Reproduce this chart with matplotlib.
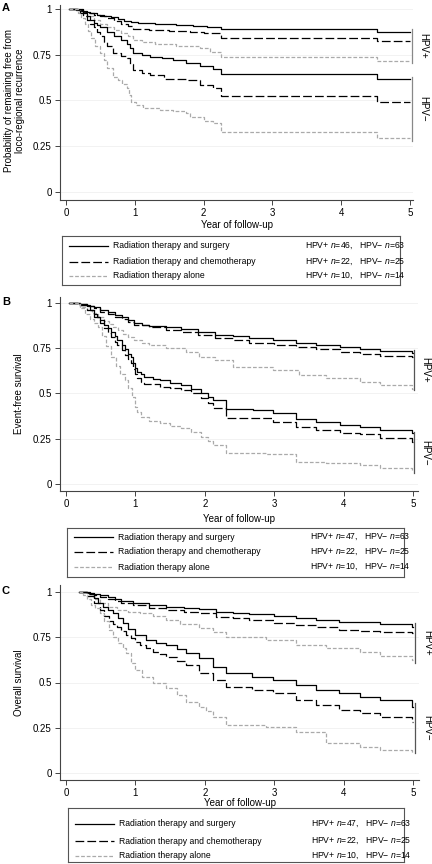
import matplotlib
matplotlib.use('Agg')
import matplotlib.pyplot as plt

plt.rcParams['font.family'] = ['Liberation Sans', 'DejaVu Sans']
plt.rcParams['mathtext.fontset'] = 'custom'
plt.rcParams['mathtext.rm'] = 'Liberation Sans'
plt.rcParams['mathtext.it'] = 'Liberation Sans:italic'

# ---- Panel A: loco-regional recurrence ----
a_surg_pos_t = [0.05, 0.15, 0.25, 0.35, 0.45, 0.55, 0.65, 0.75, 0.85, 0.95, 1.05, 1.3, 1.6, 1.85, 2.05, 2.26, 4.52, 5.0]
a_surg_pos_s = [1.0, 0.995, 0.985, 0.978, 0.97, 0.962, 0.955, 0.945, 0.935, 0.928, 0.922, 0.918, 0.913, 0.908, 0.903, 0.889, 0.876, 0.876]
a_chemo_pos_t = [0.05, 0.2, 0.3, 0.4, 0.5, 0.6, 0.7, 0.8, 0.9, 0.98, 1.2, 1.5, 1.8, 2.0, 2.26, 4.52, 5.0]
a_chemo_pos_s = [1.0, 0.99, 0.98, 0.97, 0.96, 0.95, 0.935, 0.92, 0.905, 0.89, 0.885, 0.88, 0.872, 0.867, 0.84, 0.827, 0.827]
a_alone_pos_t = [0.05, 0.2, 0.3, 0.4, 0.5, 0.6, 0.7, 0.8, 0.9, 0.98, 1.1, 1.3, 1.6, 1.95, 2.1, 2.26, 4.52, 5.0]
a_alone_pos_s = [1.0, 0.98, 0.96, 0.94, 0.92, 0.9, 0.885, 0.87, 0.85, 0.83, 0.82, 0.81, 0.8, 0.785, 0.767, 0.736, 0.716, 0.716]
a_surg_neg_t = [0.05, 0.25, 0.3, 0.35, 0.4, 0.45, 0.5, 0.6, 0.7, 0.8, 0.88, 0.93, 0.98, 1.1, 1.22, 1.4, 1.56, 1.75, 1.95, 2.14, 2.26, 4.52, 5.0]
a_surg_neg_s = [1.0, 0.98, 0.96, 0.94, 0.925, 0.91, 0.9, 0.875, 0.85, 0.83, 0.81, 0.785, 0.76, 0.75, 0.74, 0.73, 0.72, 0.705, 0.69, 0.67, 0.645, 0.617, 0.617]
a_chemo_neg_t = [0.05, 0.2, 0.25, 0.3, 0.35, 0.4, 0.45, 0.5, 0.55, 0.6, 0.69, 0.8, 0.88, 0.93, 0.98, 1.1, 1.22, 1.42, 1.75, 1.95, 2.14, 2.26, 4.52, 5.0]
a_chemo_neg_s = [1.0, 0.98, 0.96, 0.94, 0.92, 0.9, 0.875, 0.85, 0.82, 0.8, 0.76, 0.745, 0.73, 0.7, 0.667, 0.65, 0.64, 0.62, 0.61, 0.585, 0.57, 0.525, 0.493, 0.493]
a_alone_neg_t = [0.05, 0.17, 0.22, 0.27, 0.32, 0.37, 0.42, 0.49, 0.55, 0.6, 0.68, 0.75, 0.82, 0.88, 0.92, 0.95, 1.02, 1.12, 1.36, 1.55, 1.75, 1.8, 2.0, 2.14, 2.26, 4.52, 5.0]
a_alone_neg_s = [1.0, 0.98, 0.95, 0.92, 0.88, 0.84, 0.8, 0.76, 0.72, 0.68, 0.63, 0.61, 0.59, 0.57, 0.53, 0.49, 0.475, 0.46, 0.45, 0.44, 0.43, 0.41, 0.39, 0.377, 0.327, 0.297, 0.297]

# ---- Panel B: event-free survival ----
b_surg_pos_t = [0.04, 0.2, 0.3, 0.4, 0.49, 0.6, 0.7, 0.8, 0.9, 0.98, 1.1, 1.2, 1.44, 1.65, 1.9, 2.14, 2.4, 2.64, 2.98, 3.32, 3.6, 3.94, 4.23, 4.52, 4.98, 5.0]
b_surg_pos_s = [1.0, 0.995, 0.985, 0.975, 0.961, 0.95, 0.935, 0.92, 0.905, 0.888, 0.88, 0.875, 0.866, 0.855, 0.842, 0.823, 0.815, 0.805, 0.795, 0.781, 0.768, 0.755, 0.744, 0.736, 0.722, 0.722]
b_chemo_pos_t = [0.04, 0.2, 0.3, 0.4, 0.49, 0.6, 0.7, 0.8, 0.9, 0.98, 1.2, 1.44, 1.65, 1.9, 2.14, 2.4, 2.64, 3.0, 3.32, 3.6, 3.94, 4.23, 4.52, 4.98, 5.0]
b_chemo_pos_s = [1.0, 0.995, 0.985, 0.97, 0.952, 0.94, 0.925, 0.91, 0.895, 0.878, 0.865, 0.851, 0.838, 0.823, 0.805, 0.795, 0.781, 0.77, 0.755, 0.745, 0.731, 0.718, 0.709, 0.703, 0.703]
b_alone_pos_t = [0.04, 0.2, 0.3, 0.38, 0.46, 0.55, 0.62, 0.68, 0.75, 0.82, 0.9, 0.98, 1.1, 1.2, 1.44, 1.73, 1.92, 2.14, 2.4, 2.98, 3.36, 3.75, 4.23, 4.52, 4.98, 5.0]
b_alone_pos_s = [1.0, 0.98, 0.96, 0.945, 0.924, 0.9, 0.885, 0.869, 0.85, 0.83, 0.81, 0.795, 0.78, 0.768, 0.75, 0.731, 0.703, 0.685, 0.644, 0.63, 0.602, 0.584, 0.565, 0.547, 0.523, 0.523]
b_surg_neg_t = [0.04, 0.2, 0.34, 0.4, 0.45, 0.49, 0.55, 0.6, 0.65, 0.7, 0.74, 0.8, 0.85, 0.9, 0.93, 0.97, 1.0, 1.03, 1.08, 1.12, 1.25, 1.36, 1.5, 1.65, 1.8, 1.95, 2.05, 2.12, 2.3, 2.7, 2.98, 3.32, 3.6, 3.94, 4.23, 4.52, 4.98, 5.0]
b_surg_neg_s = [1.0, 0.99, 0.96, 0.94, 0.925, 0.906, 0.88, 0.86, 0.84, 0.815, 0.796, 0.77, 0.745, 0.72, 0.704, 0.67, 0.64, 0.621, 0.605, 0.59, 0.58, 0.575, 0.56, 0.547, 0.525, 0.501, 0.48, 0.464, 0.413, 0.409, 0.39, 0.357, 0.34, 0.326, 0.313, 0.298, 0.28, 0.28]
b_chemo_neg_t = [0.04, 0.2, 0.3, 0.4, 0.49, 0.55, 0.6, 0.65, 0.7, 0.74, 0.8, 0.85, 0.9, 0.93, 0.97, 1.0, 1.03, 1.08, 1.12, 1.36, 1.5, 1.65, 1.8, 1.95, 2.05, 2.12, 2.3, 2.98, 3.32, 3.6, 3.94, 4.23, 4.52, 4.98, 5.0]
b_chemo_neg_s = [1.0, 0.99, 0.96, 0.92, 0.888, 0.86, 0.835, 0.81, 0.785, 0.768, 0.74, 0.715, 0.69, 0.667, 0.635, 0.61, 0.584, 0.565, 0.551, 0.538, 0.53, 0.52, 0.5, 0.474, 0.445, 0.42, 0.367, 0.344, 0.317, 0.3, 0.28, 0.276, 0.252, 0.234, 0.234]
b_alone_neg_t = [0.04, 0.2, 0.28, 0.35, 0.4, 0.46, 0.52, 0.58, 0.65, 0.72, 0.78, 0.85, 0.9, 0.95, 0.99, 1.03, 1.08, 1.2, 1.36, 1.5, 1.65, 1.8, 1.95, 2.05, 2.12, 2.3, 2.88, 3.32, 3.75, 4.23, 4.52, 4.98, 5.0]
b_alone_neg_s = [1.0, 0.97, 0.94, 0.91, 0.89, 0.869, 0.82, 0.76, 0.703, 0.65, 0.61, 0.575, 0.53, 0.48, 0.427, 0.395, 0.372, 0.35, 0.335, 0.32, 0.307, 0.285, 0.261, 0.235, 0.215, 0.169, 0.166, 0.123, 0.114, 0.105, 0.087, 0.075, 0.075]

# ---- Panel C: overall survival ----
c_surg_pos_t = [0.19, 0.3, 0.4, 0.49, 0.6, 0.7, 0.8, 0.96, 1.2, 1.44, 1.7, 1.92, 2.16, 2.4, 2.64, 3.0, 3.32, 3.6, 3.94, 4.23, 4.52, 4.98, 5.0]
c_surg_pos_s = [1.0, 0.995, 0.99, 0.983, 0.97, 0.96, 0.95, 0.937, 0.928, 0.919, 0.91, 0.904, 0.891, 0.884, 0.876, 0.865, 0.854, 0.845, 0.836, 0.832, 0.823, 0.805, 0.805]
c_chemo_pos_t = [0.19, 0.3, 0.4, 0.49, 0.6, 0.7, 0.8, 0.96, 1.2, 1.44, 1.7, 1.92, 2.16, 2.4, 2.64, 3.0, 3.32, 3.6, 3.94, 4.23, 4.52, 4.98, 5.0]
c_chemo_pos_s = [1.0, 0.99, 0.983, 0.974, 0.96, 0.95, 0.94, 0.928, 0.913, 0.9, 0.89, 0.882, 0.863, 0.855, 0.845, 0.83, 0.818, 0.805, 0.79, 0.785, 0.781, 0.771, 0.771]
c_alone_pos_t = [0.19, 0.3, 0.4, 0.49, 0.6, 0.74, 0.9, 1.07, 1.25, 1.44, 1.65, 1.92, 2.12, 2.3, 2.88, 3.32, 3.75, 4.23, 4.52, 4.98, 5.0]
c_alone_pos_s = [1.0, 0.98, 0.96, 0.937, 0.92, 0.9, 0.89, 0.882, 0.865, 0.845, 0.826, 0.8, 0.78, 0.753, 0.735, 0.707, 0.689, 0.67, 0.646, 0.624, 0.624]
c_surg_neg_t = [0.19, 0.34, 0.4, 0.46, 0.53, 0.6, 0.68, 0.75, 0.82, 0.9, 1.0, 1.15, 1.3, 1.44, 1.6, 1.73, 1.92, 2.12, 2.3, 2.68, 2.98, 3.32, 3.6, 3.94, 4.23, 4.52, 4.98, 5.0]
c_surg_neg_s = [1.0, 0.99, 0.965, 0.94, 0.919, 0.9, 0.882, 0.855, 0.827, 0.795, 0.763, 0.735, 0.72, 0.707, 0.685, 0.661, 0.633, 0.587, 0.55, 0.532, 0.514, 0.486, 0.46, 0.44, 0.42, 0.403, 0.366, 0.366]
c_chemo_neg_t = [0.19, 0.3, 0.4, 0.49, 0.55, 0.62, 0.68, 0.74, 0.8, 0.86, 0.93, 1.0, 1.07, 1.16, 1.26, 1.35, 1.44, 1.6, 1.73, 1.92, 2.12, 2.3, 2.68, 2.98, 3.32, 3.6, 3.94, 4.23, 4.52, 4.98, 5.0]
c_chemo_neg_s = [1.0, 0.98, 0.94, 0.9, 0.87, 0.84, 0.825, 0.808, 0.785, 0.765, 0.744, 0.725, 0.707, 0.69, 0.67, 0.655, 0.643, 0.62, 0.597, 0.55, 0.514, 0.477, 0.459, 0.44, 0.403, 0.376, 0.348, 0.33, 0.311, 0.284, 0.284]
c_alone_neg_t = [0.19, 0.24, 0.3, 0.36, 0.42, 0.49, 0.55, 0.62, 0.68, 0.75, 0.82, 0.87, 0.93, 1.0, 1.1, 1.26, 1.44, 1.6, 1.73, 1.92, 2.02, 2.12, 2.3, 2.88, 3.32, 3.75, 4.23, 4.52, 4.98, 5.0]
c_alone_neg_s = [1.0, 0.983, 0.96, 0.93, 0.91, 0.882, 0.84, 0.79, 0.753, 0.72, 0.69, 0.661, 0.61, 0.569, 0.532, 0.495, 0.468, 0.43, 0.394, 0.367, 0.34, 0.311, 0.265, 0.256, 0.228, 0.164, 0.145, 0.127, 0.109, 0.109]

# legend text / sample sizes
groups = ['Radiation therapy and surgery', 'Radiation therapy and chemotherapy', 'Radiation therapy alone']
n_pos_a = [46, 22, 10]
n_neg_a = [63, 25, 14]
n_pos_b = [47, 22, 10]
n_neg_b = [63, 25, 14]
n_pos_c = [47, 22, 10]
n_neg_c = [63, 25, 14]

y_ticks = [0, 0.25, 0.5, 0.75, 1]
y_ticklabels = ['0', '0.25', '0.5', '0.75', '1']
x_ticks = [0, 1, 2, 3, 4, 5]

# line styles: surgery, chemo, alone
styles = [
    dict(color='black', lw=0.9, ls='-'),
    dict(color='black', lw=0.9, ls=(0, (7, 2.5))),
    dict(color='#aaaaaa', lw=0.9, ls=(0, (3, 1.5))),
]

W, H = 432, 864
fig = plt.figure(figsize=(W / 100, H / 100), dpi=100)


def px_rect(x0, y0, x1, y1):
    return [x0 / W, 1 - y1 / H, (x1 - x0) / W, (y1 - y0) / H]


def draw_panel(rect, xlim, ylim, curves, ylabel, ylab_x, xlab_y, letter, letter_y,
               br_x, br_pos, br_neg, br_col):
    ax = fig.add_axes(px_rect(*rect))
    for (t, s), st in zip(curves, styles * 2):
        ax.step(t, s, where='post', **st)
    ax.set_xlim(*xlim)
    ax.set_ylim(*ylim)
    ax.set_yticks(y_ticks)
    ax.set_yticklabels(y_ticklabels)
    ax.set_xticks(x_ticks)
    ax.grid(axis='y', color='#f0f0f0', lw=0.6)
    ax.set_axisbelow(True)
    for sp in ['top', 'right']:
        ax.spines[sp].set_visible(False)
    for sp in ['left', 'bottom']:
        ax.spines[sp].set_color('#444444')
        ax.spines[sp].set_linewidth(0.8)
    ax.tick_params(direction='out', length=3.5, width=0.7, color='#444444',
                   labelsize=7, pad=2.5)
    ax.set_ylabel(ylabel, fontsize=7, linespacing=1.1)
    ax.yaxis.set_label_coords(ylab_x, (0.5 - ylim[0]) / (ylim[1] - ylim[0]))
    ax.set_xlabel('Year of follow-up', fontsize=7)
    ax.xaxis.set_label_coords(0.5, xlab_y)
    fig.text(2 / W, 1 - letter_y / H, letter, fontsize=8, weight='bold', va='center')
    # HPV brackets on the right
    for (lo, hi), lab in [(br_pos, 'HPV+'), (br_neg, 'HPV\u2212')]:
        ax.plot([br_x, br_x], [lo, hi], color=br_col, lw=0.9, clip_on=False)
        ax.text(br_x + 0.17, (lo + hi) / 2, lab, rotation=270, fontsize=7,
                ha='center', va='center', clip_on=False)
    return ax


def draw_legend(rect, rows, n_pos, n_neg):
    x0, y0, x1, y1 = rect
    lax = fig.add_axes(px_rect(*rect))
    lax.set_xlim(0, x1 - x0)
    lax.set_ylim(y1 - y0, 0)
    lax.set_xticks([])
    lax.set_yticks([])
    for sp in lax.spines.values():
        sp.set_color('#555555')
        sp.set_linewidth(0.8)
    for i, y in enumerate(rows):
        lax.plot([7, 46], [y, y], **styles[i])
        lax.text(51, y, groups[i], fontsize=6.2, va='center')
        lax.text(243, y, 'HPV+ $n$=%d,   HPV\u2212 $n$=%d' % (n_pos[i], n_neg[i]),
                 fontsize=6.2, va='center', clip_on=False)


curves_a = [(a_surg_pos_t, a_surg_pos_s), (a_chemo_pos_t, a_chemo_pos_s), (a_alone_pos_t, a_alone_pos_s),
            (a_surg_neg_t, a_surg_neg_s), (a_chemo_neg_t, a_chemo_neg_s), (a_alone_neg_t, a_alone_neg_s)]
curves_b = [(b_surg_pos_t, b_surg_pos_s), (b_chemo_pos_t, b_chemo_pos_s), (b_alone_pos_t, b_alone_pos_s),
            (b_surg_neg_t, b_surg_neg_s), (b_chemo_neg_t, b_chemo_neg_s), (b_alone_neg_t, b_alone_neg_s)]
curves_c = [(c_surg_pos_t, c_surg_pos_s), (c_chemo_pos_t, c_chemo_pos_s), (c_alone_pos_t, c_alone_pos_s),
            (c_surg_neg_t, c_surg_neg_s), (c_chemo_neg_t, c_chemo_neg_s), (c_alone_neg_t, c_alone_neg_s)]

draw_panel((60, 5, 413, 200), (-0.087, 5.044), (-0.044, 1.022), curves_a,
           'Probability of remaining free from\nloco-regional recurrence', -0.1, -0.103,
           'A', 8, 5.03, (0.705, 0.89), (0.28, 0.63), '#888888')
draw_legend((62, 236, 400, 285), [10, 26, 40], n_pos_a, n_neg_a)

draw_panel((60, 297, 418, 491), (-0.086, 5.07), (-0.039, 1.033), curves_b,
           'Event-free survival', -0.1, -0.119,
           'B', 302, 5.01, (0.52, 0.74), (0.061, 0.287), '#555555')
draw_legend((67, 528, 404, 577), [9, 24, 39], n_pos_b, n_neg_b)

draw_panel((60, 585, 419, 780), (-0.086, 5.086), (-0.039, 1.039), curves_c,
           'Overall survival', -0.1, -0.092,
           'C', 591, 5.03, (0.608, 0.829), (0.11, 0.387), '#555555')
draw_legend((68, 808, 404, 862), [16, 33, 48], n_pos_c, n_neg_c)

fig.savefig('out.png', dpi=100)
